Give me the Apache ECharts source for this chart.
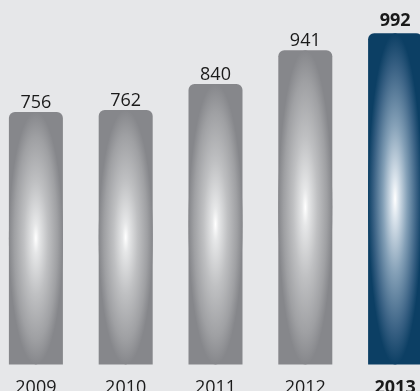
<!DOCTYPE html>
<html>
<head>
<meta charset="utf-8">
<script src="https://cdn.jsdelivr.net/npm/echarts@6/dist/echarts.min.js"></script>
<style>
  html, body { margin: 0; padding: 0; background: #e6e7e9; }
  #chart { width: 420px; height: 391px; }
</style>
</head>
<body>
<div id="chart"></div>
<script>
// Yearly totals, 2009–2013
const years = ['2009', '2010', '2011', '2012', '2013'];
const totals = [756, 762, 840, 941, 992];
const highlightYear = '2013';

const BAR_W = 54;
const FONT = '"Open Sans", "Noto Sans", sans-serif';

const grayBase = '#86878b';
const blueBase = '#0c3f64';

function glow(edge, mid1, mid2, mid3) {
  return new echarts.graphic.RadialGradient(0.5, 0.5, 0.5, [
    { offset: 0, color: '#ffffff' },
    { offset: 0.12, color: mid1 },
    { offset: 0.45, color: mid2 },
    { offset: 0.8, color: mid3 },
    { offset: 1, color: edge }
  ]);
}

const grayGlow = glow(grayBase, '#e6e7e8', '#bfc0c2', '#9fa0a3');
const blueGlow = glow(blueBase, '#dce5ed', '#84a0b7', '#386083');

const barData = totals.map((v, i) => {
  const hl = years[i] === highlightYear;
  return {
    value: v,
    itemStyle: { color: hl ? blueBase : grayBase },
    label: { fontWeight: hl ? 'bold' : 'normal', distance: hl ? 3 : 0 }
  };
});

const glowData = totals.map((v, i) => [i, v, years[i] === highlightYear ? 1 : 0]);

const chart = echarts.init(document.getElementById('chart'), null, { renderer: 'canvas' });

chart.setOption({
  backgroundColor: '#e6e7e9',
  animation: false,
  grid: {
    left: -9, right: -20, top: 30.5, bottom: 26.5,
    containLabel: false,
    outerBoundsMode: 'none'
  },
  xAxis: {
    type: 'category',
    data: years.map(y => ({
      value: y,
      textStyle: { fontWeight: y === highlightYear ? 'bold' : 'normal' }
    })),
    axisLine: { show: false },
    axisTick: { show: false },
    axisLabel: { margin: 14, color: '#1a1a1a', fontSize: 18, fontFamily: FONT, hideOverlap: false }
  },
  yAxis: { type: 'value', min: 0, max: 1000, show: false },
  series: [
    {
      type: 'bar',
      barWidth: BAR_W,
      data: barData,
      itemStyle: { borderRadius: [6, 6, 0, 0] },
      label: {
        show: true,
        position: 'top',
        color: '#1a1a1a',
        fontSize: 18,
        fontFamily: FONT
      },
      z: 2
    },
    {
      type: 'custom',
      data: glowData,
      encode: { x: 0, y: 1 },
      z: 3,
      silent: true,
      renderItem(params, api) {
        const i = api.value(0);
        const v = api.value(1);
        const top = api.coord([i, v]);
        const base = api.coord([i, 0]);
        const h = base[1] - top[1];
        return {
          type: 'circle',
          shape: { cx: 0, cy: 0, r: BAR_W / 2 },
          x: top[0],
          y: (top[1] + base[1]) / 2,
          scaleY: h / BAR_W,
          style: { fill: api.value(2) ? blueGlow : grayGlow }
        };
      }
    }
  ]
});
</script>
</body>
</html>
